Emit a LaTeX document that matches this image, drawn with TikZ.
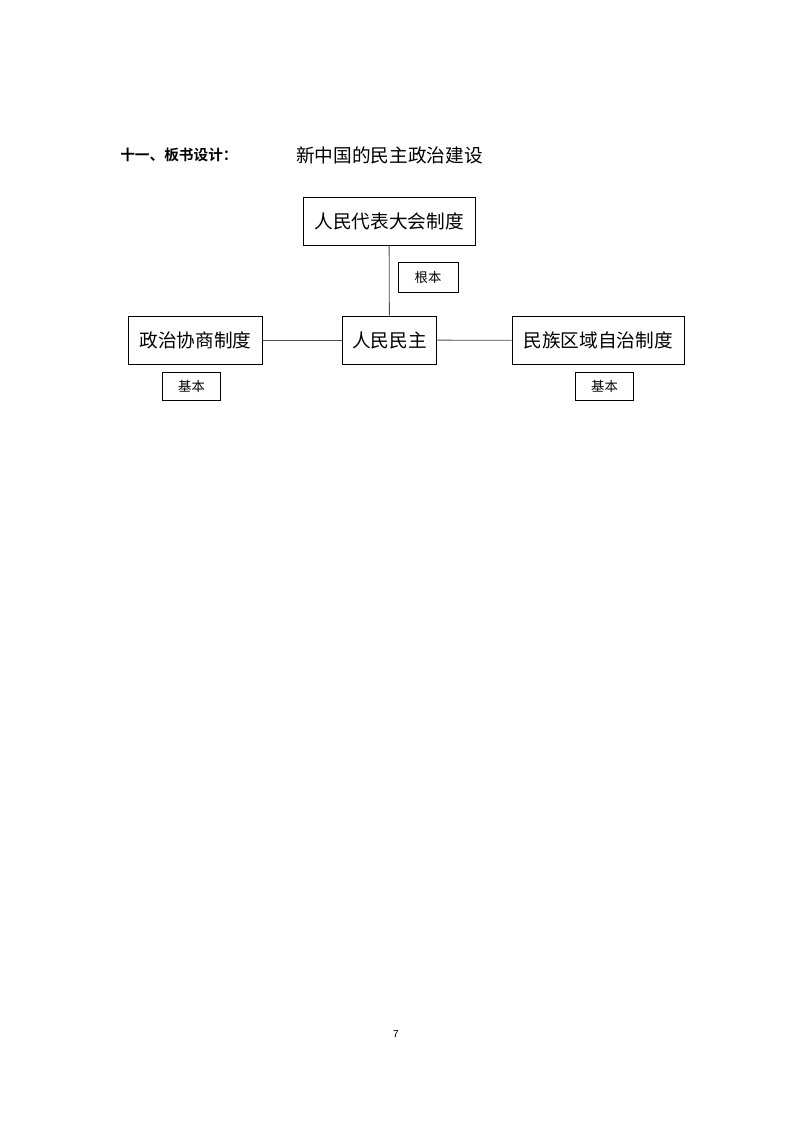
\documentclass[tikz,border=0pt]{standalone}
\usepackage{fontspec}
\setmainfont{Liberation Serif}
\newfontfamily\cjk{Noto Sans CJK SC}
\newfontfamily\cjkbold{Noto Sans CJK SC Bold}
\usetikzlibrary{positioning}

\begin{document}
\begin{tikzpicture}[
    x=0.75pt, y=-0.75pt,
    sysbox/.style={draw, line width=0.7pt, inner sep=0pt, minimum height=36pt, font=\cjk\fontsize{14}{16}\selectfont},
    tagbox/.style={draw, line width=0.6pt, inner sep=0pt, font=\cjk\fontsize{10}{12}\selectfont},
    link/.style={line width=0.6pt, black!70}
]
    \useasboundingbox (0,0) rectangle (794,1123);

    % heading
    \node[anchor=west, inner sep=0pt, font=\cjkbold\fontsize{11}{13}\selectfont] (head) at (120,155) {十一、板书设计：};
    \node[anchor=west, inner sep=0pt, font=\cjk\fontsize{14}{16}\selectfont] (title) at (296,155) {新中国的民主政治建设};

    % systems
    \node[sysbox, minimum width=129pt] (rdzd) at (389,221) {人民代表大会制度};
    \node[sysbox, minimum width=71pt] (rmmz) at (389.5,340) {人民民主};
    \node[sysbox, minimum width=100pt] (zxzd) at (195.5,340) {政治协商制度};
    \node[sysbox, minimum width=129pt] (mzzd) at (598,340.5) {民族区域自治制度};

    % tags
    \node[tagbox, minimum width=45pt, minimum height=23pt] (genben) at (428,277.5) {根本};
    \node[tagbox, minimum width=43pt, minimum height=21pt] (jibenL) at (191.5,386) {基本};
    \node[tagbox, minimum width=43pt, minimum height=21pt] (jibenR) at (604.5,386.5) {基本};

    \draw[link] (rdzd) -- (rmmz);
    \draw[link] (zxzd) -- (rmmz);
    \draw[link] (rmmz) -- (mzzd);

    % page number
    \node[font=\sffamily\fontsize{8}{10}\selectfont] (page) at (396,1034) {7};
\end{tikzpicture}
\end{document}
